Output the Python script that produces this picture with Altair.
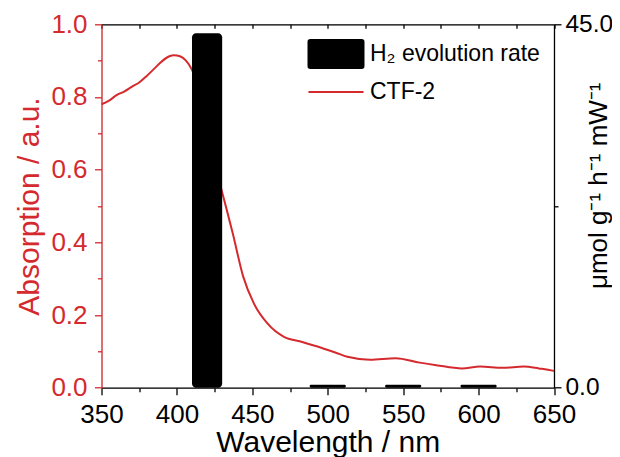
import altair as alt
import pandas as pd

# Absorption spectrum of CTF-2
wavelength = [350, 355, 360, 365, 370, 375, 380, 385, 390, 395, 398, 402, 406, 410,
              429, 433, 437, 444, 451, 460, 471, 482, 497, 505, 513, 528, 545, 561,
              572, 589, 601, 616, 630, 640, 649, 650]
absorption = [0.780, 0.790, 0.805, 0.815, 0.828, 0.840, 0.858, 0.878, 0.898, 0.912, 0.915,
              0.912, 0.900, 0.875, 0.553, 0.490, 0.425, 0.305, 0.232, 0.177, 0.140, 0.127,
              0.108, 0.097, 0.085, 0.077, 0.081, 0.069, 0.062, 0.053, 0.058, 0.055, 0.058,
              0.053, 0.047, 0.046]

# H2 evolution rate bars
bar_start = [410, 488, 538, 588]
bar_end = [430, 512, 562, 612]
bar_rate = [43.9, 0.35, 0.35, 0.35]

series_names = ["H\u2082 evolution rate", "CTF-2"]

RED = "#d42a2e"
FONT = "Liberation Sans"

df_line = pd.DataFrame({"wl": wavelength, "abs": absorption})
df_bar = pd.DataFrame({"start": bar_start, "end": bar_end, "rate": bar_rate})
df_leg = pd.DataFrame({"series": series_names, "xn": [None, None], "yn": [None, None]})

xscale = alt.Scale(domain=[350, 650], nice=False, zero=False)
xticks = list(range(350, 651, 25))

top_axis = alt.Axis(orient="top", values=xticks, labels=False, title=None,
                    tickSize={"expr": "-4"}, tickColor="black", domainColor="black",
                    domainWidth=1.3, tickWidth=1.3, grid=False)
bottom_axis = alt.Axis(orient="bottom", values=xticks,
                       labelExpr="datum.value % 50 == 0 ? format(datum.value, 'd') : ''",
                       tickSize={"condition": {"test": "datum.value % 50 == 0", "value": 7}, "value": 4},
                       labelFontSize=26, labelFont=FONT, labelColor="black", labelPadding=6.5,
                       labelOverlap=False, labelFlush=False,
                       title="Wavelength / nm", titleFontSize=30, titleFont=FONT,
                       titleFontWeight="normal", titleColor="black",
                       titleY=64, titleBaseline="alphabetic",
                       domainColor="black", tickColor="black", domainWidth=1.3, tickWidth=1.3,
                       grid=False)

left_axis = alt.Axis(orient="left", values=[round(i * 0.1, 1) for i in range(11)],
                     labelExpr="round(datum.value*10) % 2 == 0 ? format(datum.value, '.1f') : ''",
                     tickSize={"condition": {"test": "round(datum.value*10) % 2 == 0", "value": 7}, "value": 4},
                     labelFontSize=26, labelFont=FONT, labelColor=RED, labelPadding=7.5,
                     labelOverlap=False, labelFlush=False,
                     title="Absorption / a.u.", titleFontSize=30, titleFont=FONT,
                     titleFontWeight="normal", titleColor=RED, titleX=-57,
                     domainColor=RED, tickColor=RED, domainWidth=1.3, tickWidth=1.3, grid=False)

right_axis = alt.Axis(orient="right", values=[0, 22.5, 45],
                      labelExpr="datum.value == 22.5 ? '' : format(datum.value, '.1f')",
                      tickSize={"condition": {"test": "datum.value == 22.5", "value": 4}, "value": 7},
                      labelFontSize=24.5, labelFont=FONT, labelColor="black", labelPadding=4,
                      labelOverlap=False, labelFlush=False,
                      title="\u03bcmol g\u207b\u00b9  h\u207b\u00b9  mW\u207b\u00b9", titleFontSize=26,
                      titleFont=FONT, titleFontWeight="normal", titleColor="black",
                      titleAngle=270, titleX=53, titleY=161, titleBaseline="alphabetic",
                      titleAlign="center",
                      domainColor="black", tickColor="black", domainWidth=1.3, tickWidth=1.3,
                      grid=False)

line = alt.Chart(df_line).mark_line(color=RED, strokeWidth=2, interpolate="monotone").encode(
    x=alt.X("wl:Q", scale=xscale, axis=top_axis),
    y=alt.Y("abs:Q", scale=alt.Scale(domain=[0, 1], nice=False), axis=left_axis),
)

bars = alt.Chart(df_bar).mark_rect(color="black", cornerRadius=4).encode(
    x=alt.X("start:Q", scale=xscale, axis=bottom_axis),
    x2="end:Q",
    y=alt.Y("rate:Q", scale=alt.Scale(domain=[0, 45], nice=False), axis=right_axis),
    y2=alt.datum(0),
)

rect_path = "M-1.39,-0.757H1.39Q1.486,-0.757 1.486,-0.66V0.66Q1.486,0.757 1.39,0.757H-1.39Q-1.486,0.757 -1.486,0.66V-0.66Q-1.486,-0.757 -1.39,-0.757Z"
line_path = "M-1.49,0H1.49"

legend = alt.Legend(title=None, orient="none", legendX=215, legendY=10.2,
                    labelFontSize=23, labelFont=FONT, labelColor="black",
                    symbolSize=1369, symbolStrokeWidth=2, labelOffset=14.5,
                    rowPadding=0, padding=0, labelLimit=400)

leg = alt.Chart(df_leg).mark_point(size=1369, strokeWidth=2, opacity=1).encode(
    x=alt.X("xn:Q", scale=xscale, axis=None),
    y=alt.Y("yn:Q", axis=None),
    fill=alt.Fill("series:N", scale=alt.Scale(domain=series_names, range=["black", "transparent"]), legend=legend),
    stroke=alt.Stroke("series:N", scale=alt.Scale(domain=series_names, range=["black", RED]), legend=legend),
    shape=alt.Shape("series:N", scale=alt.Scale(domain=series_names, range=[rect_path, line_path]), legend=legend),
)

chart = alt.layer(line, bars, leg).resolve_scale(
    y="independent"
).resolve_axis(
    x="independent", y="independent"
).properties(
    width=452.5, height=363.4,
    autosize=alt.AutoSizeParams(type="none"),
    padding={"left": 93.5, "top": 16.3, "right": 58, "bottom": 70},
).configure_view(stroke=None).configure(font=FONT)

chart.save("out.html", embed_options={"renderer": "svg", "actions": False})
